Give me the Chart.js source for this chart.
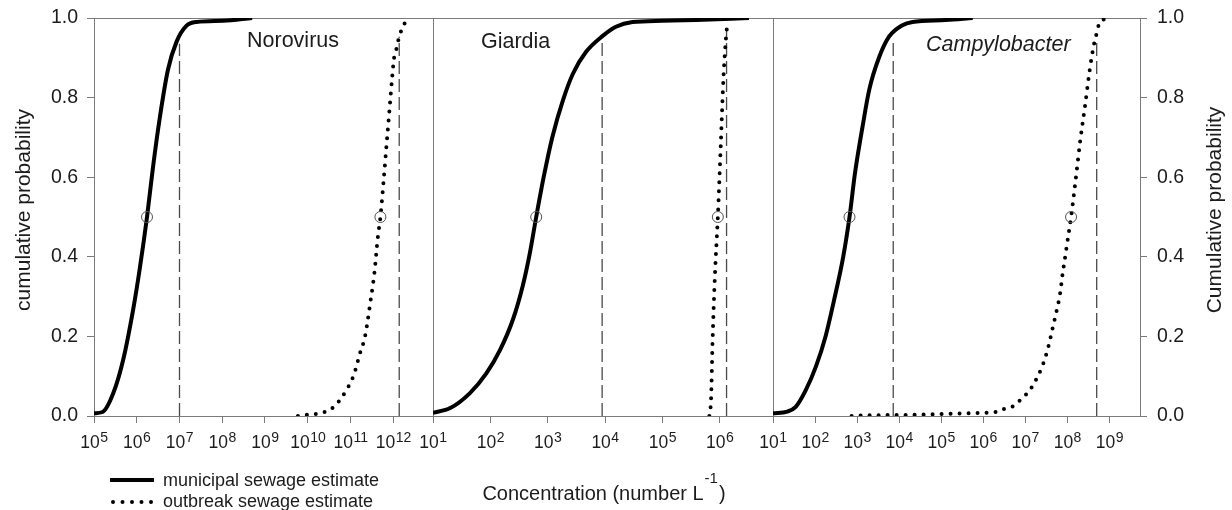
<!DOCTYPE html>
<html>
<head>
<meta charset="utf-8">
<title>Cumulative probability of pathogen concentrations in sewage</title>
<script src="https://cdn.jsdelivr.net/npm/chart.js@4.4.1/dist/chart.umd.min.js"></script>
<style>
  body { margin: 0; background: #fff; }
  #wrap { position: relative; width: 1232px; height: 510px; overflow: hidden; }
  .panel { position: absolute; top: 0; height: 510px; }
</style>
</head>
<body>
<div id="wrap">
  <div class="panel" style="left:0;width:434px"><canvas id="noro"></canvas></div>
  <div class="panel" style="left:400px;width:374px"><canvas id="giardia"></canvas></div>
  <div class="panel" style="left:740px;width:492px"><canvas id="campy"></canvas></div>
</div>
<script>
// concentrations are kept as log10(number per litre)
const probTicks = [0, 0.2, 0.4, 0.6, 0.8, 1.0];

// Norovirus
const noroRange = [5, 12.93];
const noroTickExp = [5, 6, 7, 8, 9, 10, 11, 12];
const noroMuniLog = [5.0, 5.2, 5.45, 5.68, 5.92, 6.07, 6.24, 6.38, 6.54, 6.73, 6.93, 7.16, 7.4, 8.02, 8.7];
const noroMuniP   = [0.007, 0.01, 0.057, 0.14, 0.27, 0.37, 0.5, 0.625, 0.75, 0.87, 0.94, 0.98, 0.99, 0.993, 1.0];
const noroOutLog  = [9.77, 9.98, 10.18, 10.39, 10.61, 10.79, 10.92, 11.03, 11.11, 11.22, 11.34, 11.47, 11.56, 11.64, 11.7, 11.77, 11.84, 11.91, 11.98, 12.02, 12.07, 12.12, 12.18, 12.28];
const noroOutP    = [0, 0.003, 0.005, 0.01, 0.023, 0.046, 0.068, 0.09, 0.114, 0.157, 0.2, 0.29, 0.36, 0.45, 0.5, 0.585, 0.677, 0.767, 0.857, 0.9, 0.92, 0.945, 0.966, 0.99];
const noroMedLog  = [6.24, 11.7];
const noroMedP    = [0.5, 0.5];
const noro95Log   = [7.0, 12.14];
const noro95Top   = [0.935, 0.953];

// Giardia
const giaRange = [1, 6.93];
const giaTickExp = [1, 2, 3, 4, 5, 6];
const giaMuniLog = [1.0, 1.3, 1.64, 1.93, 2.17, 2.4, 2.57, 2.69, 2.8, 2.93, 3.08, 3.27, 3.44, 3.67, 3.96, 4.19, 4.48, 5.0, 5.59, 6.51];
const giaMuniP   = [0.008, 0.02, 0.057, 0.107, 0.166, 0.245, 0.33, 0.41, 0.5, 0.6, 0.7, 0.795, 0.86, 0.915, 0.955, 0.978, 0.99, 0.993, 0.995, 1.0];
const giaOutLog  = [5.82, 5.85, 5.875, 5.916, 5.968, 6.02, 6.067, 6.11, 6.136];
const giaOutP    = [0, 0.044, 0.183, 0.35, 0.5, 0.685, 0.853, 0.95, 0.99];
const giaMedLog  = [2.8, 5.968];
const giaMedP    = [0.5, 0.5];
const gia95Log   = [3.95, 6.12];
const gia95Top   = [0.945, 0.975];

// Campylobacter
const campyRange = [1, 9.73];
const campyTickExp = [1, 2, 3, 4, 5, 6, 7, 8, 9];
const campyMuniLog = [1.0, 1.34, 1.54, 1.78, 2.02, 2.25, 2.45, 2.67, 2.82, 2.95, 3.13, 3.29, 3.52, 3.76, 4.08, 4.32, 5.11, 5.75];
const campyMuniP   = [0.007, 0.011, 0.023, 0.065, 0.124, 0.2, 0.29, 0.4, 0.5, 0.61, 0.727, 0.82, 0.9, 0.953, 0.982, 0.99, 0.995, 1.0];
const campyOutLog  = [2.87, 3.09, 3.52, 4.4, 5.03, 5.67, 6.3, 6.5, 6.72, 6.92, 7.11, 7.25, 7.43, 7.55, 7.65, 7.75, 7.83, 7.89, 7.95, 8.02, 8.09, 8.19, 8.31, 8.43, 8.54, 8.64, 8.71, 8.76, 8.84, 9.04];
const campyOutP    = [0, 0.001, 0.002, 0.003, 0.005, 0.007, 0.01, 0.018, 0.025, 0.044, 0.065, 0.09, 0.132, 0.174, 0.22, 0.266, 0.308, 0.358, 0.4, 0.45, 0.5, 0.585, 0.693, 0.785, 0.874, 0.936, 0.966, 0.987, 0.995, 1.0];
const campyMedLog  = [2.82, 8.09];
const campyMedP    = [0.5, 0.5];
const campy95Log   = [3.86, 8.7];
const campy95Top   = [0.94, 0.95];

const AXIS = '#7b7b7b';
const INK = '#1c1c1c';
const FACE = "'Liberation Sans', Arial, Helvetica, sans-serif";

const pts = (logs, ps) => logs.map((v, i) => ({ x: 10 ** v, y: ps[i] }));

function panelDatasets(muniLog, muniP, outLog, outP, medLog, medP, p95Log, p95Top) {
  const sets = [
    { data: pts(medLog, medP), showLine: false, pointRadius: 5.5, pointStyle: 'circle',
      pointBackgroundColor: 'rgba(0,0,0,0)', pointBorderColor: '#555', pointBorderWidth: 1 },
    { data: pts(muniLog, muniP), showLine: true, borderColor: '#000', borderWidth: 4,
      pointRadius: 0, cubicInterpolationMode: 'monotone' },
    { data: pts(outLog, outP), showLine: true, borderColor: '#000', borderWidth: 4,
      borderDash: [0, 9], borderCapStyle: 'round', pointRadius: 0, cubicInterpolationMode: 'monotone' }
  ];
  p95Log.forEach((v, i) => {
    sets.push({ data: [{ x: 10 ** v, y: 0 }, { x: 10 ** v, y: p95Top[i] }], showLine: true,
      borderColor: '#4a4a4a', borderWidth: 1.3, borderDash: [13, 5], pointRadius: 0 });
  });
  return sets;
}

function makeX(range, tickExp) {
  return {
    type: 'logarithmic',
    bounds: 'data',
    min: 10 ** range[0],
    max: 10 ** range[1],
    afterBuildTicks: s => { s.ticks = tickExp.map(e => ({ value: 10 ** e })); },
    afterFit: s => { s.height = 94; },
    ticks: { display: false },
    grid: { drawOnChartArea: false, drawTicks: true, tickLength: 7, color: AXIS },
    border: { display: true, color: AXIS }
  };
}

function makeY(position) {
  if (!position) return { display: false, min: 0, max: 1 };
  return {
    position,
    min: 0,
    max: 1,
    afterBuildTicks: s => { s.ticks = probTicks.map(v => ({ value: v })); },
    afterFit: s => {
      s.width = position === 'left' ? 94 : 92;
      // keep the plot top at the layout padding
      s.paddingTop = 0;
      s.paddingBottom = 0;
    },
    ticks: { font: { family: FACE, size: 19.5 }, color: INK, padding: position === 'left' ? 9 : 10,
      callback: v => v.toFixed(1) },
    grid: { drawOnChartArea: false, tickLength: 7, color: AXIS },
    border: { color: AXIS }
  };
}

function label(c, text, x, y, size, opts = {}) {
  c.font = `${opts.italic ? 'italic ' : ''}${size}px ${FACE}`;
  c.fillStyle = INK;
  c.textAlign = opts.align || 'left';
  c.textBaseline = opts.baseline || 'alphabetic';
  c.fillText(text, x, y);
}

function vTitle(c, text, x, y) {
  c.save();
  c.translate(x, y);
  c.rotate(-Math.PI / 2);
  label(c, text, 0, 0, 21, { align: 'center', baseline: 'middle' });
  c.restore();
}

// 10 with a raised exponent under each decade tick
function powerLabels(chart, tickExp) {
  const c = chart.ctx;
  const sc = chart.scales.x;
  tickExp.forEach(e => {
    const px = sc.getPixelForValue(10 ** e);
    c.font = `17.5px ${FACE}`;
    const wb = c.measureText('10').width;
    c.font = `14px ${FACE}`;
    const ws = c.measureText(String(e)).width;
    const x0 = px - (wb + ws) / 2;
    label(c, '10', x0, 448, 17.5);
    label(c, String(e), x0 + wb + 0.5, 442, 14);
  });
}

function xTitle(c, cx, base) {
  const main = 'Concentration (number L', sup = '-1', tail = ')';
  c.font = `20px ${FACE}`;
  const w1 = c.measureText(main).width;
  const w3 = c.measureText(tail).width;
  c.font = `15px ${FACE}`;
  const w2 = c.measureText(sup).width;
  let x = cx - (w1 + w2 + w3) / 2;
  label(c, main, x, base, 20);
  x += w1 + 1;
  label(c, sup, x, base - 17, 15);
  x += w2 + 1;
  label(c, tail, x, base, 20);
}

const frame = {
  id: 'frame',
  beforeDatasetsDraw(chart) {
    const { ctx, chartArea: a } = chart;
    ctx.save();
    ctx.strokeStyle = AXIS;
    ctx.lineWidth = 1;
    ctx.strokeRect(a.left + 0.5, a.top + 0.5, a.right - a.left, a.bottom - a.top);
    ctx.restore();
  }
};

function decor(originX, tickExp, draw) {
  return {
    id: 'decor',
    afterDraw(chart) {
      const c = chart.ctx;
      c.save();
      powerLabels(chart, tickExp);
      c.translate(-originX, 0);
      draw(c);
      c.restore();
    }
  };
}

function makeChart(id, datasets, x, y, padding, plugin) {
  return new Chart(document.getElementById(id), {
    type: 'scatter',
    data: { datasets },
    options: {
      responsive: true,
      maintainAspectRatio: false,
      devicePixelRatio: 1,
      animation: false,
      events: [],
      layout: { padding, autoPadding: false },
      plugins: { legend: { display: false }, tooltip: { enabled: false } },
      scales: { x, y }
    },
    plugins: [frame, plugin]
  });
}

makeChart('noro',
  panelDatasets(noroMuniLog, noroMuniP, noroOutLog, noroOutP, noroMedLog, noroMedP, noro95Log, noro95Top),
  makeX(noroRange, noroTickExp), makeY('left'),
  { left: 0, right: 1, top: 18, bottom: 0 },
  decor(0, noroTickExp, c => {
    label(c, 'Norovirus', 247, 47, 21.5);
    vTitle(c, 'cumulative probability', 24, 210);
    // legend
    c.strokeStyle = '#000';
    c.lineWidth = 4;
    c.beginPath(); c.moveTo(110, 480); c.lineTo(154, 480); c.stroke();
    c.setLineDash([0, 9.5]);
    c.lineCap = 'round';
    c.beginPath(); c.moveTo(113, 502); c.lineTo(152, 502); c.stroke();
    c.setLineDash([]);
    label(c, 'municipal sewage estimate', 163, 486, 18);
    label(c, 'outbreak sewage estimate', 163, 507, 18);
  }));

makeChart('giardia',
  panelDatasets(giaMuniLog, giaMuniP, giaOutLog, giaOutP, giaMedLog, giaMedP, gia95Log, gia95Top),
  makeX(giaRange, giaTickExp), makeY(null),
  { left: 33, right: 1, top: 18, bottom: 0 },
  decor(400, giaTickExp, c => {
    label(c, 'Giardia', 481, 48, 21.5);
    xTitle(c, 603, 500);
  }));

makeChart('campy',
  panelDatasets(campyMuniLog, campyMuniP, campyOutLog, campyOutP, campyMedLog, campyMedP, campy95Log, campy95Top),
  makeX(campyRange, campyTickExp), makeY('right'),
  { left: 33, right: 0, top: 18, bottom: 0 },
  decor(740, campyTickExp, c => {
    label(c, 'Campylobacter', 926, 51, 21.5, { italic: true });
    vTitle(c, 'Cumulative probability', 1215, 210);
  }));
</script>
</body>
</html>
